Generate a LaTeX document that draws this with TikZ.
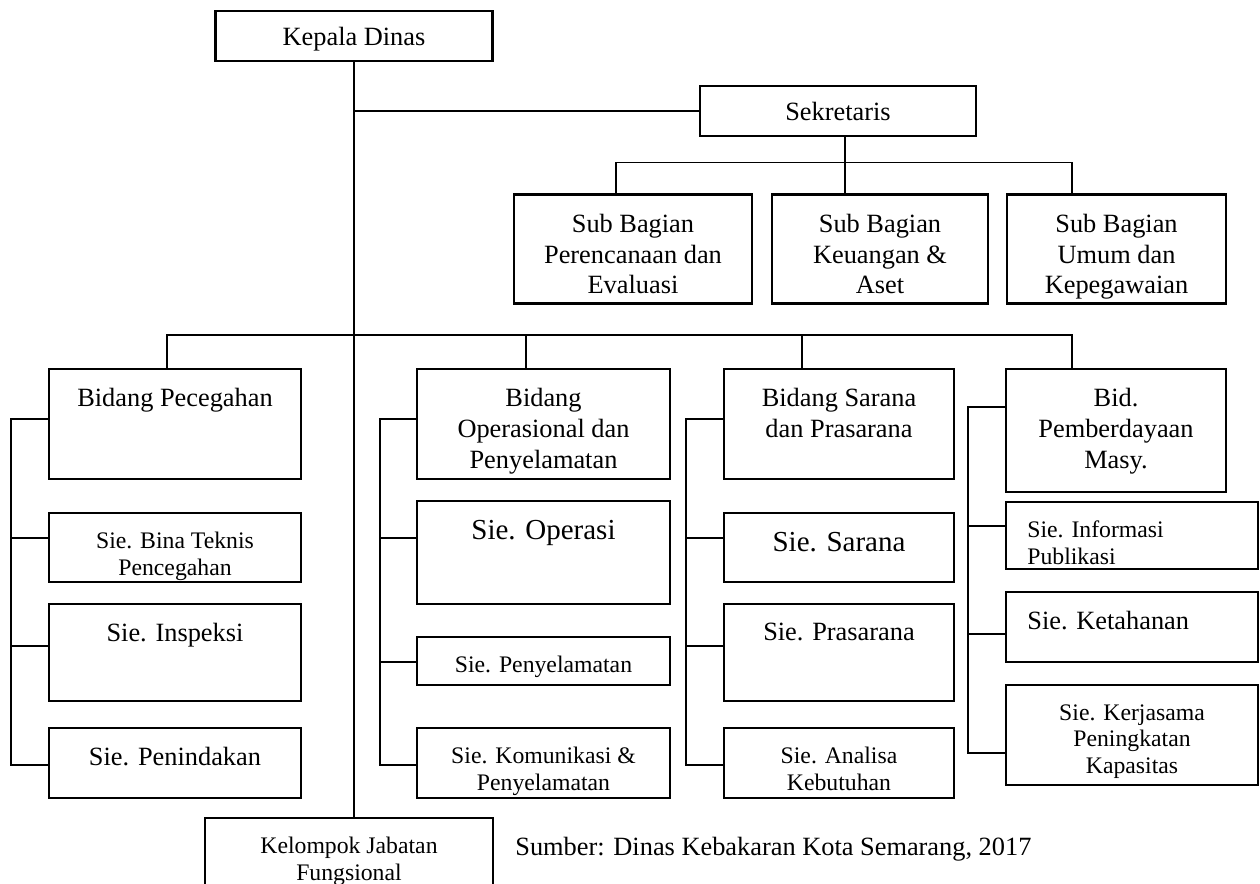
\documentclass[tikz,border=0pt]{standalone}
\usepackage{fontspec}
\setmainfont{Liberation Serif}
\usepackage{tikz}
\newcommand{\szS}{\fontsize{13.5pt}{15.3pt}\selectfont}
\newcommand{\szM}{\fontsize{15pt}{17.6pt}\selectfont}
\newcommand{\szL}{\fontsize{16.5pt}{19pt}\selectfont}

\begin{document}
\begin{tikzpicture}[
        unit/.style={draw, line width=1.2pt, inner sep=0pt, text depth=0pt, font=\szM},
        toptext/.style={anchor=north, inner sep=0pt, yshift=-0.4cm, align=center},
        hs/.style={label={[toptext, font=\szS]north:#1}},
        hm/.style={label={[toptext, font=\szM]north:#1}},
        hl/.style={label={[toptext, font=\szL]north:#1}},
        link/.style={line width=0.9pt},
        note/.style={font=\szM, inner sep=0pt}
    ]
    \useasboundingbox (0,0) rectangle (25.2,-17.68);

    % pimpinan dan sekretariat
    \node[unit, minimum width=5.54cm, minimum height=1cm] (kd) at (7.08,-0.72) {Kepala Dinas};
    \node[unit, minimum width=5.52cm, minimum height=1cm] (sek) at (16.76,-2.22) {Sekretaris};
    \node[unit, minimum width=4.76cm, minimum height=2.18cm, hm={Sub Bagian\\Perencanaan dan\\Evaluasi}] (sub1) at (12.66,-4.98) {};
    \node[unit, minimum width=4.32cm, minimum height=2.18cm, hm={Sub Bagian\\Keuangan \&\\Aset}] (sub2) at (17.6,-4.98) {};
    \node[unit, minimum width=4.38cm, minimum height=2.18cm, hm={Sub Bagian\\Umum dan\\Kepegawaian}] (sub3) at (22.33,-4.98) {};

    % bidang
    \node[unit, minimum width=5.04cm, minimum height=2.2cm, hm={Bidang Pecegahan}] (bpc) at (3.5,-8.48) {};
    \node[unit, minimum width=5.06cm, minimum height=2.2cm, hm={Bidang\\Operasional dan\\Penyelamatan}] (bop) at (10.87,-8.48) {};
    \node[unit, minimum width=4.6cm, minimum height=2.2cm, hm={Bidang Sarana\\dan Prasarana}] (bsp) at (16.78,-8.48) {};
    \node[unit, minimum width=4.4cm, minimum height=2.46cm, hm={Bid.\\Pemberdayaan\\Masy.}] (bpm) at (22.32,-8.61) {};

    % seksi
    \node[unit, minimum width=5.04cm, minimum height=1.38cm, hs={Sie. Bina Teknis\\Pencegahan}] (bina) at (3.5,-10.95) {};
    \node[unit, minimum width=5.04cm, minimum height=1.94cm, hm={Sie. Inspeksi}] (insp) at (3.5,-13.05) {};
    \node[unit, minimum width=5.04cm, minimum height=1.4cm, hm={Sie. Penindakan}] (pind) at (3.5,-15.26) {};

    \node[unit, minimum width=5.06cm, minimum height=2.06cm, hl={Sie. Operasi}] (sop) at (10.87,-11.05) {};
    \node[unit, minimum width=5.06cm, minimum height=0.96cm, hs={Sie. Penyelamatan}] (spy) at (10.87,-13.22) {};
    \node[unit, minimum width=5.06cm, minimum height=1.4cm, hs={Sie. Komunikasi \&\\Penyelamatan}] (skm) at (10.87,-15.26) {};

    \node[unit, minimum width=4.6cm, minimum height=1.38cm, hl={Sie. Sarana}] (ssr) at (16.78,-10.95) {};
    \node[unit, minimum width=4.6cm, minimum height=1.94cm, hm={Sie. Prasarana}] (sps) at (16.78,-13.05) {};
    \node[unit, minimum width=4.6cm, minimum height=1.4cm, hs={Sie. Analisa\\Kebutuhan}] (san) at (16.78,-15.26) {};

    \node[unit, minimum width=5.04cm, minimum height=1.34cm, label={[toptext, anchor=north west, xshift=-2.1cm, align=left, font=\szS]north:Sie. Informasi\\Publikasi}] (sinf) at (22.64,-10.71) {};
    \node[unit, minimum width=5.04cm, minimum height=1.4cm, label={[toptext, anchor=north west, xshift=-2.1cm, align=left, font=\szM]north:Sie. Ketahanan}] (sket) at (22.64,-12.54) {};
    \node[unit, minimum width=5.04cm, minimum height=2cm, hs={Sie. Kerjasama\\Peningkatan\\Kapasitas}] (skj) at (22.64,-14.7) {};

    \node[unit, minimum width=5.76cm, minimum height=1.44cm, hs={Kelompok Jabatan\\Fungsional}] (kjf) at (6.98,-17.08) {};
    \node[note, anchor=base west] (src) at (10.3,-17.1) {Sumber: Dinas Kebakaran Kota Semarang, 2017};

    % garis komando
    \draw[link] (kd.south) -- (kd.south |- kjf.north);
    \draw[link] (kd.south |- sek.west) -- (sek.west);
    \draw[link] ([xshift=1.4mm]sek.south) -- ++(0,-1.16);
    \draw[link] ([xshift=-3.4mm]sub1.north) -- ++(0,0.62) -| ([xshift=-8.9mm]sub3.north);
    \draw[link] ([xshift=-1.6mm]bpc.north) -- ++(0,0.66) -| ([xshift=-8.8mm]bpm.north);
    \draw[link] ([xshift=-3.5mm]bop.north) -- ++(0,0.66);
    \draw[link] ([xshift=-7.4mm]bsp.north) -- ++(0,0.66);

    \draw[link] ([yshift=1mm]bpc.west) -- ++(-0.74,0) |- ([yshift=-0.4mm]pind.west);
    \draw[link] ([yshift=1.9mm]bina.west) -- ++(-0.74,0);
    \draw[link] ([yshift=1.3mm]insp.west) -- ++(-0.74,0);

    \draw[link] ([yshift=1mm]bop.west) -- ++(-0.72,0) |- ([yshift=-0.4mm]skm.west);
    \draw[link] ([yshift=2.9mm]sop.west) -- ++(-0.72,0);
    \draw[link] ([yshift=-0.2mm]spy.west) -- ++(-0.72,0);

    \draw[link] ([yshift=1mm]bsp.west) -- ++(-0.74,0) |- ([yshift=-0.4mm]san.west);
    \draw[link] ([yshift=1.9mm]ssr.west) -- ++(-0.74,0);
    \draw[link] ([yshift=1.3mm]sps.west) -- ++(-0.74,0);

    \draw[link] ([yshift=4.7mm]bpm.west) -- ++(-0.74,0) |- ([yshift=-3.6mm]skj.west);
    \draw[link] ([yshift=1.9mm]sinf.west) -- ++(-0.74,0);
    \draw[link] ([yshift=-1.4mm]sket.west) -- ++(-0.74,0);
\end{tikzpicture}
\end{document}
